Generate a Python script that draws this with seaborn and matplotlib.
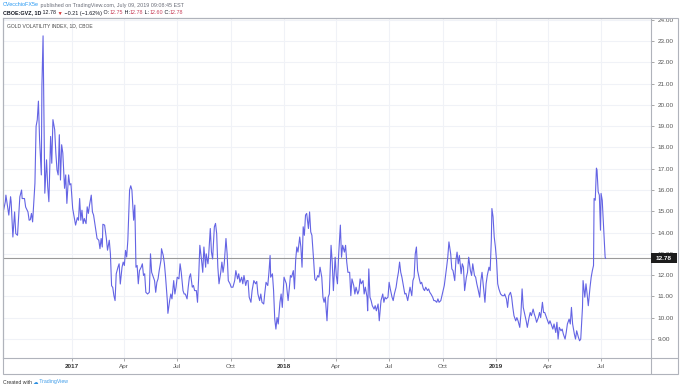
import matplotlib
matplotlib.use("Agg")
import matplotlib.pyplot as plt
import matplotlib.transforms as mtransforms
from matplotlib.patches import Rectangle
from matplotlib.lines import Line2D
import pandas as pd
import seaborn as sns

# ---------------- data ----------------
dates = [
    "2016-09-05", "2016-09-08", "2016-09-09", "2016-09-12", "2016-09-14", "2016-09-17", "2016-09-18",
    "2016-09-21", "2016-09-24", "2016-09-26", "2016-09-29", "2016-10-03", "2016-10-06", "2016-10-07",
    "2016-10-11", "2016-10-13", "2016-10-17", "2016-10-19", "2016-10-21", "2016-10-23", "2016-10-25",
    "2016-10-29", "2016-10-31", "2016-11-02", "2016-11-04", "2016-11-06", "2016-11-09", "2016-11-10",
    "2016-11-12", "2016-11-15", "2016-11-18", "2016-11-20", "2016-11-22", "2016-11-25", "2016-11-27",
    "2016-11-29", "2016-12-02", "2016-12-04", "2016-12-06", "2016-12-08", "2016-12-10", "2016-12-12",
    "2016-12-14", "2016-12-16", "2016-12-19", "2016-12-21", "2016-12-23", "2016-12-26", "2016-12-28",
    "2016-12-30",
    "2017-01-02", "2017-01-04", "2017-01-07", "2017-01-10", "2017-01-12", "2017-01-14", "2017-01-16",
    "2017-01-18", "2017-01-20", "2017-01-22", "2017-01-25", "2017-01-27", "2017-01-29", "2017-01-31",
    "2017-02-03", "2017-02-05", "2017-02-07", "2017-02-10", "2017-02-13", "2017-02-16", "2017-02-18",
    "2017-02-20", "2017-02-22", "2017-02-23", "2017-02-26", "2017-03-01", "2017-03-03", "2017-03-06",
    "2017-03-08", "2017-03-10", "2017-03-12", "2017-03-14", "2017-03-16", "2017-03-18", "2017-03-21",
    "2017-03-23", "2017-03-25", "2017-03-28", "2017-03-30", "2017-04-01", "2017-04-03", "2017-04-05",
    "2017-04-07", "2017-04-10", "2017-04-12", "2017-04-14", "2017-04-17", "2017-04-19", "2017-04-21",
    "2017-04-23", "2017-04-25", "2017-04-27", "2017-04-30", "2017-05-02", "2017-05-04", "2017-05-06",
    "2017-05-08", "2017-05-11", "2017-05-14", "2017-05-16", "2017-05-18", "2017-05-21", "2017-05-23",
    "2017-05-25", "2017-05-27", "2017-05-29", "2017-05-31", "2017-06-03", "2017-06-04", "2017-06-07",
    "2017-06-09", "2017-06-11", "2017-06-14", "2017-06-15", "2017-06-18", "2017-06-20", "2017-06-22",
    "2017-06-25", "2017-06-27", "2017-06-29", "2017-07-01", "2017-07-04", "2017-07-06", "2017-07-08",
    "2017-07-11", "2017-07-13", "2017-07-15", "2017-07-18", "2017-07-20", "2017-07-22", "2017-07-24",
    "2017-07-27", "2017-07-29", "2017-07-31", "2017-08-03", "2017-08-05", "2017-08-07", "2017-08-09",
    "2017-08-12", "2017-08-14", "2017-08-16", "2017-08-19", "2017-08-20", "2017-08-23", "2017-08-24",
    "2017-08-27", "2017-08-29", "2017-08-31", "2017-09-03", "2017-09-05", "2017-09-07", "2017-09-09",
    "2017-09-11", "2017-09-14", "2017-09-16", "2017-09-18", "2017-09-20", "2017-09-23", "2017-09-25",
    "2017-09-27", "2017-09-30", "2017-10-02", "2017-10-05", "2017-10-08", "2017-10-10", "2017-10-13",
    "2017-10-15", "2017-10-17", "2017-10-20", "2017-10-22", "2017-10-24", "2017-10-27", "2017-10-29",
    "2017-10-31", "2017-11-02", "2017-11-05", "2017-11-07", "2017-11-10", "2017-11-13", "2017-11-15",
    "2017-11-17", "2017-11-20", "2017-11-22", "2017-11-24", "2017-11-27", "2017-11-29", "2017-12-01",
    "2017-12-04", "2017-12-06", "2017-12-08", "2017-12-09", "2017-12-12", "2017-12-14", "2017-12-16",
    "2017-12-18", "2017-12-20", "2017-12-22", "2017-12-25", "2017-12-27", "2017-12-29",
    "2018-01-01", "2018-01-03", "2018-01-05", "2018-01-08", "2018-01-10", "2018-01-12", "2018-01-14",
    "2018-01-17", "2018-01-19", "2018-01-21", "2018-01-23", "2018-01-25", "2018-01-28", "2018-01-30",
    "2018-02-01", "2018-02-03", "2018-02-05", "2018-02-07", "2018-02-09", "2018-02-12", "2018-02-14",
    "2018-02-16", "2018-02-18", "2018-02-21", "2018-02-23", "2018-02-25", "2018-02-28", "2018-03-02",
    "2018-03-04", "2018-03-07", "2018-03-09", "2018-03-11", "2018-03-13", "2018-03-16", "2018-03-18",
    "2018-03-20", "2018-03-23", "2018-03-25", "2018-03-27", "2018-03-30", "2018-04-01", "2018-04-03",
    "2018-04-05", "2018-04-08", "2018-04-10", "2018-04-12", "2018-04-15", "2018-04-17", "2018-04-19",
    "2018-04-21", "2018-04-24", "2018-04-26", "2018-04-28", "2018-05-01", "2018-05-03", "2018-05-05",
    "2018-05-08", "2018-05-10", "2018-05-12", "2018-05-14", "2018-05-17", "2018-05-19", "2018-05-21",
    "2018-05-24", "2018-05-25", "2018-05-27", "2018-05-29", "2018-05-31", "2018-06-02", "2018-06-05",
    "2018-06-07", "2018-06-09", "2018-06-12", "2018-06-14", "2018-06-17", "2018-06-20", "2018-06-22",
    "2018-06-24", "2018-06-26", "2018-06-29", "2018-07-01", "2018-07-03", "2018-07-06", "2018-07-08",
    "2018-07-10", "2018-07-13", "2018-07-15", "2018-07-17", "2018-07-19", "2018-07-21", "2018-07-23",
    "2018-07-26", "2018-07-28", "2018-07-30", "2018-08-02", "2018-08-04", "2018-08-06", "2018-08-09",
    "2018-08-11", "2018-08-13", "2018-08-15", "2018-08-17", "2018-08-19", "2018-08-22", "2018-08-24",
    "2018-08-26", "2018-08-29", "2018-08-31", "2018-09-02", "2018-09-05", "2018-09-07", "2018-09-09",
    "2018-09-11", "2018-09-14", "2018-09-16", "2018-09-18", "2018-09-21", "2018-09-23", "2018-09-25",
    "2018-09-28", "2018-09-30", "2018-10-02", "2018-10-04", "2018-10-07", "2018-10-08", "2018-10-10",
    "2018-10-12", "2018-10-15", "2018-10-17", "2018-10-19", "2018-10-22", "2018-10-24", "2018-10-26",
    "2018-10-28", "2018-10-30", "2018-11-02", "2018-11-04", "2018-11-06", "2018-11-08", "2018-11-11",
    "2018-11-13", "2018-11-15", "2018-11-18", "2018-11-20", "2018-11-22", "2018-11-25", "2018-11-27",
    "2018-11-29", "2018-12-01", "2018-12-04", "2018-12-06", "2018-12-08", "2018-12-11", "2018-12-13",
    "2018-12-15", "2018-12-17", "2018-12-20", "2018-12-22", "2018-12-24", "2018-12-25", "2018-12-27",
    "2018-12-29", "2018-12-31",
    "2019-01-02", "2019-01-04", "2019-01-06", "2019-01-09", "2019-01-12", "2019-01-15", "2019-01-16",
    "2019-01-19", "2019-01-21", "2019-01-23", "2019-01-26", "2019-01-28", "2019-01-30", "2019-02-01",
    "2019-02-04", "2019-02-06", "2019-02-08", "2019-02-11", "2019-02-13", "2019-02-15", "2019-02-17",
    "2019-02-20", "2019-02-22", "2019-02-24", "2019-02-27", "2019-03-01", "2019-03-03", "2019-03-06",
    "2019-03-08", "2019-03-10", "2019-03-12", "2019-03-15", "2019-03-17", "2019-03-19", "2019-03-22",
    "2019-03-24", "2019-03-26", "2019-03-29", "2019-03-31", "2019-04-02", "2019-04-04", "2019-04-07",
    "2019-04-09", "2019-04-11", "2019-04-14", "2019-04-16", "2019-04-18", "2019-04-20", "2019-04-23",
    "2019-04-25", "2019-04-27", "2019-04-30", "2019-05-02", "2019-05-04", "2019-05-07", "2019-05-09",
    "2019-05-11", "2019-05-13", "2019-05-16", "2019-05-18", "2019-05-20", "2019-05-23", "2019-05-25",
    "2019-05-27", "2019-05-30", "2019-05-31", "2019-06-03", "2019-06-05", "2019-06-07", "2019-06-09",
    "2019-06-12", "2019-06-14", "2019-06-16", "2019-06-18", "2019-06-19", "2019-06-21", "2019-06-23",
    "2019-06-24", "2019-06-26", "2019-06-28", "2019-06-30", "2019-07-01", "2019-07-03", "2019-07-08",
    "2019-07-09",
]
values = [
    15.05, 15.45, 15.76, 15.21, 14.82, 15.68, 15.45,
    13.79, 14.97, 13.95, 13.87, 15.68, 16.00, 15.60,
    15.60, 15.20, 14.97, 14.58, 14.60, 14.90, 14.50,
    16.32, 19.00, 19.30, 20.18, 18.37, 16.71, 20.89,
    23.25, 15.85, 17.42, 16.16, 15.45, 18.52, 17.26,
    19.31, 18.84, 17.74, 16.95, 16.71, 18.60, 16.47,
    18.13, 17.74, 16.08, 16.71, 15.37, 16.71, 16.24,
    16.30,
    15.13, 14.82, 14.35, 14.70, 14.58, 15.60, 14.58,
    15.05, 14.42, 14.66, 14.42, 15.21, 14.90, 15.29,
    15.76, 14.97, 14.82, 14.27, 13.72, 13.64, 13.24,
    13.72, 13.32, 14.39, 14.35, 13.72, 13.17, 13.64,
    13.00, 11.50, 11.42, 11.03, 10.80, 12.06, 12.37,
    12.53, 11.58, 12.37, 12.61, 12.45, 13.16, 12.85,
    13.64, 16.00, 16.20, 16.00, 14.58, 15.29, 12.37,
    12.45, 11.59, 12.21, 12.37, 12.53, 11.98, 12.06,
    11.19, 11.11, 11.19, 13.00, 12.13, 11.90, 11.74,
    11.19, 11.66, 11.82, 12.21, 12.69, 13.24, 12.92,
    12.53, 11.90, 10.80, 10.20, 10.80, 11.11, 10.88,
    11.74, 11.11, 11.43, 11.90, 11.82, 12.53, 12.13,
    11.27, 11.11, 11.11, 10.88, 11.43, 11.90, 12.06,
    11.43, 11.51, 11.27, 11.27, 10.72, 11.90, 13.40,
    12.69, 12.13, 13.32, 12.37, 13.00, 12.53, 12.84,
    14.19, 13.08, 12.76, 14.27, 14.43, 13.95, 12.37,
    11.59, 12.13, 12.61, 12.13, 12.53, 13.72, 13.00,
    11.74, 11.59, 11.43, 11.43, 11.74, 12.21, 11.82,
    12.06, 11.66, 11.90, 11.59, 11.98, 11.51, 11.74,
    11.74, 10.96, 10.72, 11.27, 11.74, 11.59, 11.70,
    11.11, 10.80, 11.11, 10.72, 10.64, 11.19, 11.66,
    11.51, 12.13, 12.92, 11.90, 12.06, 11.27, 9.93,
    9.46, 10.00, 9.70, 10.72, 11.11, 10.48,
    11.90, 11.74, 11.59, 10.80, 11.35, 11.98, 11.90,
    12.21, 11.35, 12.69, 13.32, 13.08, 13.79, 13.32,
    12.37, 14.27, 13.87, 14.82, 14.90, 14.19, 14.97,
    14.03, 13.87, 12.69, 11.82, 11.74, 11.98, 11.90,
    12.37, 11.90, 10.96, 10.72, 10.96, 9.85, 10.96,
    11.11, 13.40, 12.61, 11.27, 12.84, 11.98, 11.59,
    12.92, 14.35, 12.84, 13.40, 13.08, 13.40, 12.61,
    12.13, 12.13, 11.03, 11.82, 11.51, 11.11, 11.43,
    11.11, 11.27, 11.82, 11.59, 11.74, 11.11, 11.43,
    10.96, 10.32, 12.29, 10.96, 10.80, 10.56, 10.40,
    10.56, 10.32, 10.64, 9.85, 10.80, 11.11, 10.72,
    10.96, 10.88, 10.96, 11.66, 11.35, 10.96, 10.80,
    11.11, 11.43, 11.82, 12.13, 12.61, 12.13, 11.90,
    11.43, 11.11, 11.14, 10.80, 11.11, 11.43, 11.03,
    11.74, 11.90, 13.00, 13.32, 12.21, 11.82, 11.59,
    11.66, 11.35, 11.27, 11.43, 11.27, 11.35, 11.19,
    11.11, 10.96, 10.80, 10.80, 10.72, 10.88, 10.72,
    10.80, 11.03, 11.27, 11.51, 12.13, 12.37, 12.84,
    13.56, 13.00, 12.29, 12.21, 11.74, 12.69, 13.08,
    12.53, 12.92, 12.06, 12.53, 12.37, 11.27, 11.90,
    12.13, 12.84, 12.21, 11.98, 12.53, 11.98, 11.90,
    11.59, 11.35, 10.96, 11.74, 12.13, 11.27, 10.72,
    11.59, 11.98, 12.37, 12.21, 13.64, 15.13, 14.74,
    13.79, 13.32,
    12.69, 11.59, 11.35, 11.11, 11.03, 11.03, 11.11,
    10.88, 10.48, 11.03, 11.19, 10.96, 10.48, 10.09,
    9.85, 10.00, 9.85, 9.54, 10.17, 11.35, 10.48,
    10.09, 9.85, 9.54, 10.00, 10.24, 10.09, 10.40,
    10.17, 10.00, 9.78, 10.00, 10.24, 10.00, 10.72,
    10.24, 10.24, 10.00, 9.85, 9.70, 9.85, 9.62,
    9.46, 9.70, 9.30, 9.78, 8.99, 9.54, 9.38,
    9.46, 9.23, 8.99, 9.30, 9.70, 9.93, 9.70,
    10.48, 9.70, 9.23, 8.99, 9.38, 9.07, 8.91,
    8.99, 10.48, 11.74, 10.96, 11.59, 11.11, 10.56,
    11.43, 11.90, 12.21, 12.45, 15.60, 15.52, 17.03,
    16.95, 15.92, 15.76, 14.11, 15.84, 15.52, 12.84,
    12.78,
]
last_price = 12.78
y_ticks = [9, 10, 11, 12, 13, 14, 15, 16, 17, 18, 19, 20, 21, 22, 23, 24]
x_tick_dates = ["2017-01-01", "2017-04-01", "2017-07-01", "2017-10-01",
                "2018-01-01", "2018-04-01", "2018-07-01", "2018-10-01",
                "2019-01-01", "2019-04-01", "2019-07-01"]
x_tick_labels = ["2017", "Apr", "Jul", "Oct", "2018", "Apr", "Jul", "Oct",
                 "2019", "Apr", "Jul"]

header_line1 = [("CVecchioFX5e", "#2196f3", "normal"),
                (" published on TradingView.com, July 09, 2019 09:08:45 EST", "#6a6d78", "normal")]
header_line2 = [("CBOE:GVZ, 1D", "#131722", "bold"),
                (" 12.78", "#131722", "normal"),
                (" \u25BC", "#d32f2f", "normal"),
                (" \u22120.21 (\u22121.62%)", "#131722", "normal"),
                (" O:", "#131722", "normal"), ("12.75", "#c8405a", "normal"),
                (" H:", "#131722", "normal"), ("12.78", "#c8405a", "normal"),
                (" L:", "#131722", "normal"), ("12.60", "#c8405a", "normal"),
                (" C:", "#131722", "normal"), ("12.78", "#c8405a", "normal")]
footer = [("Created with", "#333333", "normal"),
          (" \u2601", "#2e8fe0", "normal"),
          (" TradingView", "#3d9be9", "normal")]
chart_title = "GOLD VOLATILITY INDEX, 1D, CBOE"

# ---------------- styling ----------------
sns.set_theme(style="white")
plt.rcParams["font.family"] = ["Liberation Sans", "DejaVu Sans"]

W, H = 680, 390
fig = plt.figure(figsize=(W / 100, H / 100), dpi=100)
fig.patch.set_facecolor("white")


def fx(px):
    return px / W


def fy(py):
    return 1 - py / H


L, R, T, B = 3, 651, 18, 358
BORDER_R, BORDER_B = 678, 374
ax = fig.add_axes([fx(L), fy(B), fx(R) - fx(L), fy(T) - fy(B)])
ax.set_facecolor("white")

df = pd.DataFrame({"date": pd.to_datetime(dates), "value": values})
sns.lineplot(data=df, x="date", y="value", ax=ax, color="#6464e4",
             linewidth=0.8, estimator=None, sort=False, zorder=3)

ax.set_xlim(pd.Timestamp("2016-09-04"), pd.Timestamp("2019-09-25"))
ax.set_ylim(8.10, 24.09)
ax.set_xlabel("")
ax.set_ylabel("")

# grid
ax.set_axisbelow(True)
ax.grid(True, color="#f0f2f7", linewidth=0.8)

# y axis on right
ax.yaxis.tick_right()
ax.set_yticks(y_ticks)
ax.set_yticklabels([f"{v:.2f}" for v in y_ticks])
ax.tick_params(axis="y", which="major", right=True, left=False, length=2,
               width=0.6, color="#9a9a9a", pad=2.5, labelsize=4.6,
               labelcolor="#555555")

# x axis
ax.set_xticks(pd.to_datetime(x_tick_dates))
ax.set_xticklabels(x_tick_labels)
ax.tick_params(axis="x", which="major", bottom=True, length=2, width=0.6,
               color="#9a9a9a", pad=2.5, labelsize=4.6, labelcolor="#555555")
for lab in ax.get_xticklabels():
    if lab.get_text().isdigit():
        lab.set_fontweight("bold")
        lab.set_color("#333333")

for s in ax.spines.values():
    s.set_color("#b0b3bb")
    s.set_linewidth(0.8)

# last-price line and label
ax.axhline(last_price, color="#9a9a9a", linewidth=0.8, zorder=2)
trans = mtransforms.blended_transform_factory(ax.transAxes, ax.transData)
px_per_unit = (B - T) / (24.09 - 8.10)
box_w = 26 / (R - L)
box_h = 10 / px_per_unit
ax.add_patch(Rectangle((1.0, last_price - box_h / 2), box_w, box_h,
                       transform=trans, fc="#1c1c1c", ec="none",
                       clip_on=False, zorder=19))
ax.text(1.0 + box_w / 2, last_price, f"{last_price:.2f}", transform=trans,
        ha="center", va="center", fontsize=4.6, fontweight="bold",
        color="white", clip_on=False, zorder=20)

# chart title inside
ax.text(4 / (R - L), 1 - (26 - T) / (B - T), chart_title,
        transform=ax.transAxes, ha="left", va="center", fontsize=3.6,
        color="#4a4a4a", zorder=5)

# outer frame
fig.add_artist(Rectangle((fx(L), fy(BORDER_B)), fx(BORDER_R) - fx(L),
                         fy(T) - fy(BORDER_B), transform=fig.transFigure,
                         fill=False, ec="#b0b3bb", lw=0.8))
fig.add_artist(Line2D([fx(R), fx(R)], [fy(B), fy(BORDER_B)],
                      transform=fig.transFigure, color="#b0b3bb", lw=0.8))
fig.add_artist(Line2D([fx(R), fx(BORDER_R)], [fy(B), fy(B)],
                      transform=fig.transFigure, color="#b0b3bb", lw=0.8))

# header / footer text runs (spaces kept at the start of each run)
renderer = fig.canvas.get_renderer()


def draw_runs(x_px, y_px, runs, size):
    x = fx(x_px)
    for txt, color, weight in runs:
        t = fig.text(x, fy(y_px), txt, color=color, fontsize=size,
                     fontweight=weight, ha="left", va="center")
        bb = t.get_window_extent(renderer=renderer)
        x = fig.transFigure.inverted().transform((bb.x1, bb.y0))[0]


draw_runs(3, 5, header_line1, 3.9)
draw_runs(3, 13, header_line2, 3.9)
draw_runs(3, 382, footer, 3.7)

fig.savefig("out.png", dpi=100, facecolor="white")
